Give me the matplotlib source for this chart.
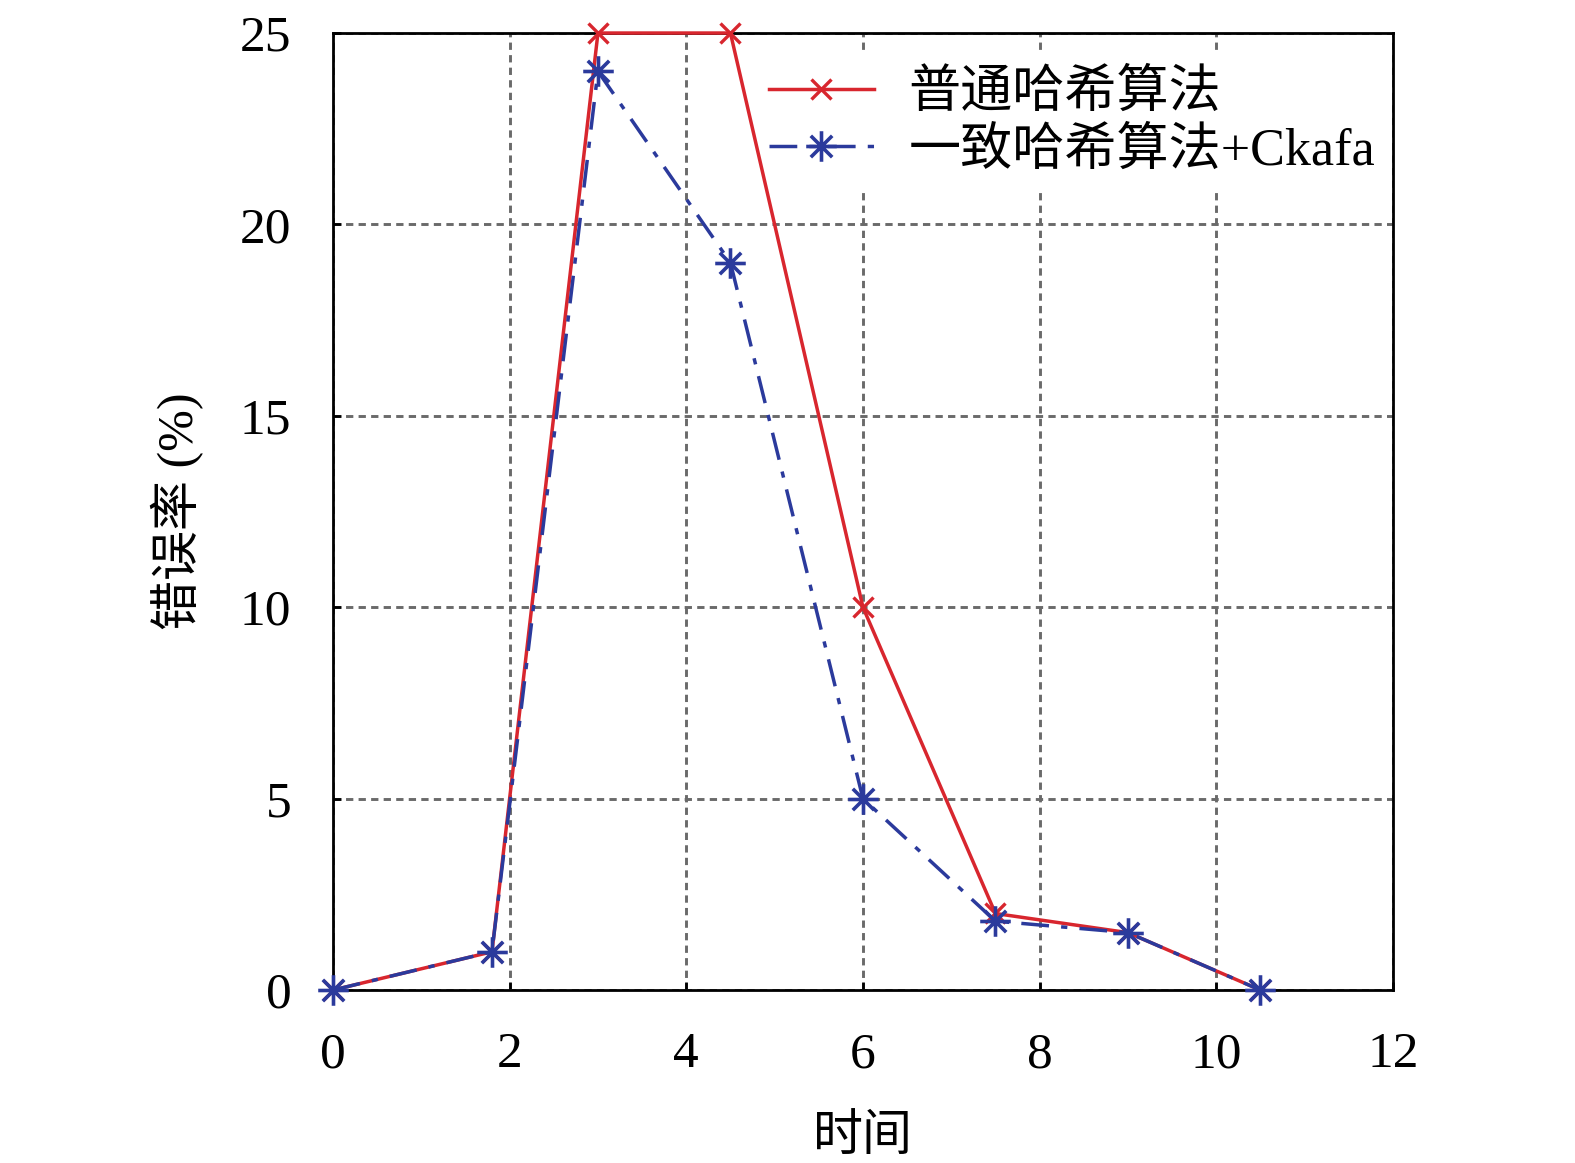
import matplotlib
matplotlib.use('Agg')
import matplotlib.pyplot as plt
from matplotlib.path import Path

plt.rcParams['font.family'] = ['Liberation Serif', 'Noto Sans CJK SC']
plt.rcParams['axes.unicode_minus'] = False

# data
time_pts = [0, 1.8, 3, 4.5, 6, 7.5, 9, 10.5]
err_plain = [0, 1, 25, 25, 10, 2.0, 1.5, 0]
err_consistent = [0, 1, 24, 19, 5, 1.8, 1.5, 0]
x_ticks = [0, 2, 4, 6, 8, 10, 12]
y_ticks = [0, 5, 10, 15, 20, 25]
label_plain = '普通哈希算法'
label_consistent = '一致哈希算法+Ckafa'

# matlab-like asterisk marker (+ and x together)
star = Path(
    [(-1, 0), (1, 0), (0, -1), (0, 1),
     (-0.7, -0.7), (0.7, 0.7), (-0.7, 0.7), (0.7, -0.7)],
    [Path.MOVETO, Path.LINETO] * 4)

red = '#D8262E'
blue = '#2B3A9C'

fig = plt.figure(figsize=(15.75, 11.63), dpi=100)
ax = fig.add_axes([0.2114, 0.1487, 0.6730, 0.8229])

ax.plot(time_pts, err_plain, color=red, lw=2.5, marker='x', ms=15, mew=2.4,
        label=label_plain, zorder=3, clip_on=False)
ax.plot(time_pts, err_consistent, color=blue, lw=2.5, marker=star, ms=22, mew=2.6,
        dashes=[8, 3.5, 1.8, 3.5], label=label_consistent, zorder=4, clip_on=False)

ax.set_xlim(0, 12)
ax.set_ylim(0, 25)
ax.set_xticks(x_ticks)
ax.set_yticks(y_ticks)
ax.tick_params(direction='in', length=6, width=2, labelsize=37, pad=30,
               top=False, right=False)
ax.tick_params(axis='x', pad=30)
for sp in ax.spines.values():
    sp.set_linewidth(2)

ax.grid(True, color='#6a6a6a', linestyle=(0, (2.5, 1.8)), linewidth=2.1)
ax.set_axisbelow(True)

ax.set_xlabel('时间', fontsize=36, labelpad=26)
ax.set_ylabel('错误率 (%)', fontsize=36, labelpad=26)

leg = ax.legend(loc='upper right', bbox_to_anchor=(0.998, 0.978), fontsize=37.5,
                frameon=True, fancybox=False, framealpha=1, edgecolor='none',
                handlelength=2.0, handletextpad=0.67, labelspacing=0.18,
                borderpad=0.3, borderaxespad=0)
leg.set_zorder(2)

plt.savefig('out.png', dpi=100, facecolor='white')
plt.close()
